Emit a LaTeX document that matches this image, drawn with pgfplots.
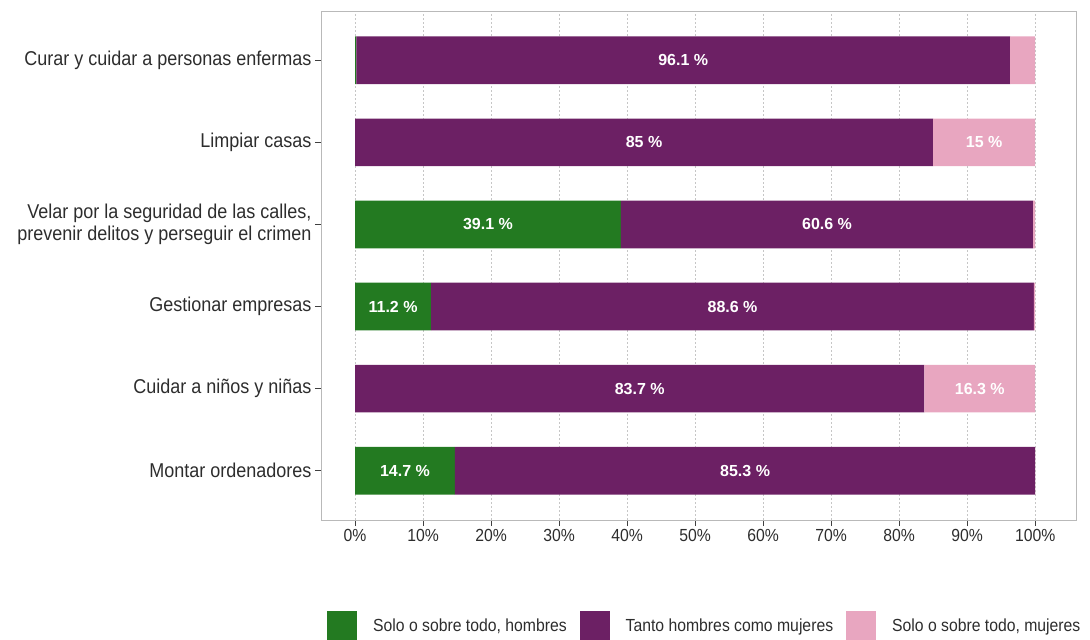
\documentclass[border=0pt]{standalone}
\usepackage{pgfplots}
\usepackage{pgfplotstable}
\pgfplotsset{compat=1.18}
\usepackage{fontspec}
\setmainfont{Liberation Sans}[FakeStretch=0.9]
\newfontfamily\lblfont{Liberation Sans}
\definecolor{cgreen}{RGB}{35,122,33}
\definecolor{cpurple}{RGB}{108,32,100}
\definecolor{cpink}{RGB}{232,166,192}
\definecolor{txt}{RGB}{45,45,45}

\pgfplotstableread{
y men both women
6 0.2 96.1 3.7
5 0 85 15
4 39.1 60.6 0.3
3 11.2 88.6 0.2
2 0 83.7 16.3
1 14.7 85.3 0
}\data

\pgfplotstableread{
x y v
48.25 6 96.1
42.5 5 85
92.5 5 15
19.55 4 39.1
69.4 4 60.6
5.6 3 11.2
55.5 3 88.6
41.85 2 83.7
91.85 2 16.3
7.35 1 14.7
57.35 1 85.3
}\labels

\pgfplotsset{
  mybar/.style={xbar, stack plots=x, draw=none, bar width=0.58,
    legend image code/.code={\fill[##1,draw=none] (0pt,-15pt) rectangle (30pt,15pt);}},
}

\begin{document}
\begin{tikzpicture}[x=1pt,y=1pt]
\useasboundingbox (0,0) rectangle (1090,640);
\begin{axis}[
  at={(321pt,120pt)}, anchor=south west,
  scale only axis, width=755pt, height=509pt,
  xmin=-5, xmax=106, ymin=0.4, ymax=6.6,
  /pgf/number format/assume math mode=true,
  xtick={0,10,...,100},
  xticklabels={0\%,10\%,20\%,30\%,40\%,50\%,60\%,70\%,80\%,90\%,100\%},
  ytick={1,2,3,4,5,6},
  yticklabels={Montar ordenadores, Cuidar a niños y niñas, Gestionar empresas, {Velar por la seguridad de las calles,\\prevenir delitos y perseguir el crimen}, Limpiar casas, Curar y cuidar a personas enfermas},
  yticklabel style={align=right, font=\fontsize{20}{22}\selectfont, text=txt},
  xticklabel style={font=\fontsize{17.5}{18}\selectfont, text=txt},
  xtick pos=bottom, ytick pos=left,
  tick align=outside, major tick length=6pt,
  tick style={black!75, line width=0.9pt},
  xmajorgrids, ymajorgrids=false,
  major x grid style={gray!45, dash pattern=on 2pt off 2pt, line width=0.6pt},
  axis line style={gray!55, line width=0.9pt},
  legend style={draw=none, fill=none, at={(0.004,-0.208)}, anchor=west,
    legend columns=3, font=\fontsize{17.5}{18}\selectfont, text=txt,
    /tikz/every odd column/.append style={column sep=16pt},
    /tikz/every even column/.append style={column sep=13pt},
    nodes={inner sep=0pt}},
  legend cell align=left,
]
\addplot[mybar, fill=cgreen] table[x=men, y=y] {\data};
\addlegendentry{Solo o sobre todo, hombres}
\addplot[mybar, fill=cpurple] table[x=both, y=y] {\data};
\addlegendentry{Tanto hombres como mujeres}
\addplot[mybar, fill=cpink] table[x=women, y=y] {\data};
\addlegendentry{Solo o sobre todo, mujeres}
\addplot[forget plot, draw=none, mark=none, stack plots=false,
  point meta=explicit symbolic,
  nodes near coords={\pgfplotspointmeta\ \%},
  every node near coord/.style={anchor=center, text=white, font=\lblfont\bfseries\fontsize{16}{16}\selectfont}]
  table[x=x, y=y, meta=v] {\labels};
\end{axis}
\end{tikzpicture}
\end{document}
